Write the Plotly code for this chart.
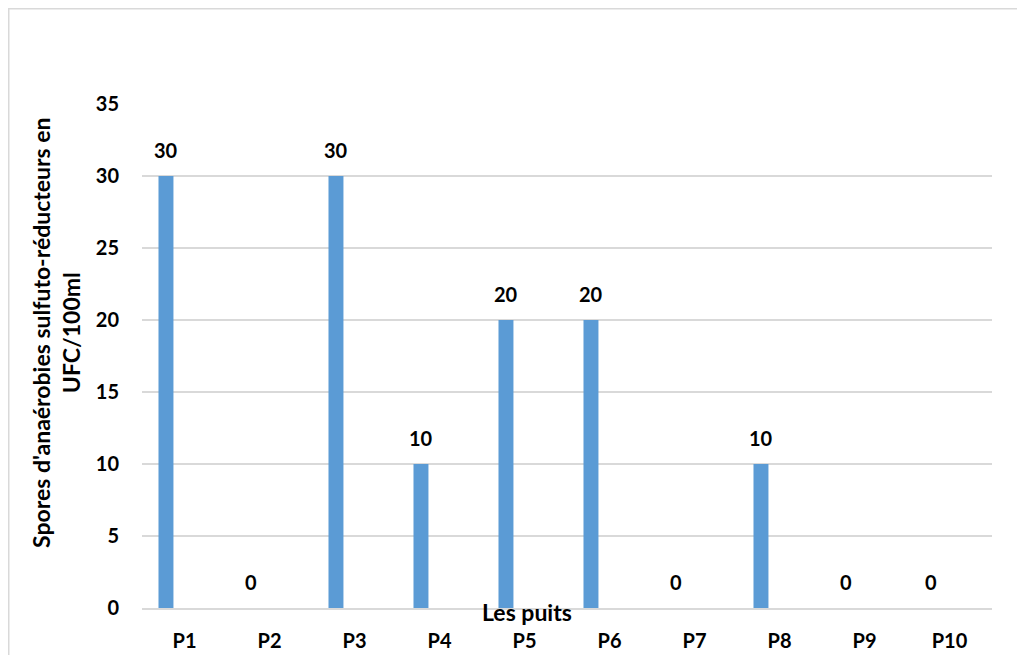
import plotly.graph_objects as go

categories = ["P1", "P2", "P3", "P4", "P5", "P6", "P7", "P8", "P9", "P10"]
values = [30, 0, 30, 10, 20, 20, 0, 10, 0, 0]
y_ticks = [0, 5, 10, 15, 20, 25, 30, 35]

# page body has an 8px margin, so the canvas is drawn 8px smaller
W, H = 1017, 647
L, R, T, B = 134, 33, 96, 47
pw, ph = W - L - R, H - T - B
PB = T + ph  # pixel y of plot bottom

bar_offset = -0.218
bar_width = 0.176
idx = list(range(len(categories)))
xpos = [i + bar_offset for i in idx]

font_family = "Lato, 'Open Sans', sans-serif"

fig = go.Figure()
fig.add_trace(go.Bar(
    x=xpos, y=values, width=bar_width,
    marker=dict(color="#5b9bd5", line=dict(width=0)),
    hoverinfo="skip",
))

annotations = []
for x, v in zip(xpos, values):
    annotations.append(dict(
        x=x, y=v, xref="x", yref="y", text=f"<b>{v}</b>", showarrow=False,
        yanchor="bottom", yshift=12, font=dict(size=20, color="#000", family=font_family),
    ))

annotations.append(dict(
    x=(519 - L) / pw, y=(PB - 604) / ph, xref="paper", yref="paper", text="<b>Les puits</b>",
    showarrow=False, xanchor="center", yanchor="middle",
    font=dict(size=23, color="#000", family=font_family),
))
annotations.append(dict(
    x=(48 - L) / pw, y=(PB - 325) / ph, xref="paper", yref="paper",
    text="<b>Spores d'anaérobies sulfuto-réducteurs en<br>UFC/100ml</b>",
    showarrow=False, textangle=-90, xanchor="center", yanchor="middle",
    font=dict(size=23, color="#000", family=font_family),
))

shapes = [
    dict(type="line", xref="paper", yref="paper",
         x0=(0.75 - L) / pw, x1=(0.75 - L) / pw, y0=(PB - 700) / ph, y1=(PB - 0) / ph,
         line=dict(color="#d9d9d9", width=1.5)),
    dict(type="line", xref="paper", yref="paper",
         x0=(0 - L) / pw, x1=(1030 - L) / pw, y0=(PB - 0.75) / ph, y1=(PB - 0.75) / ph,
         line=dict(color="#d9d9d9", width=1.5)),
]

fig.update_layout(
    width=W, height=H,
    margin=dict(l=L, r=R, t=T, b=B),
    plot_bgcolor="white", paper_bgcolor="white",
    showlegend=False,
    annotations=annotations,
    shapes=shapes,
    xaxis=dict(
        range=[-0.5, len(categories) - 0.5],
        tickmode="array", tickvals=idx, ticktext=[f"<b>{c}</b>" for c in categories],
        showgrid=False, zeroline=False,
        showline=True, linecolor="#d9d9d9", linewidth=1.5,
        ticks="", ticklabelstandoff=14, automargin=False,
        tickfont=dict(size=20, color="#000", family=font_family),
        fixedrange=True,
    ),
    yaxis=dict(
        range=[0, 35], tickmode="array", tickvals=y_ticks,
        ticktext=[f"<b>{t}</b>" for t in y_ticks],
        showgrid=True, gridcolor="#d9d9d9", gridwidth=1.5,
        zeroline=False, showline=False, ticks="", ticklabelstandoff=22, automargin=False,
        tickfont=dict(size=20, color="#000", family=font_family),
        fixedrange=True,
    ),
)

fig.write_html("out.html")
